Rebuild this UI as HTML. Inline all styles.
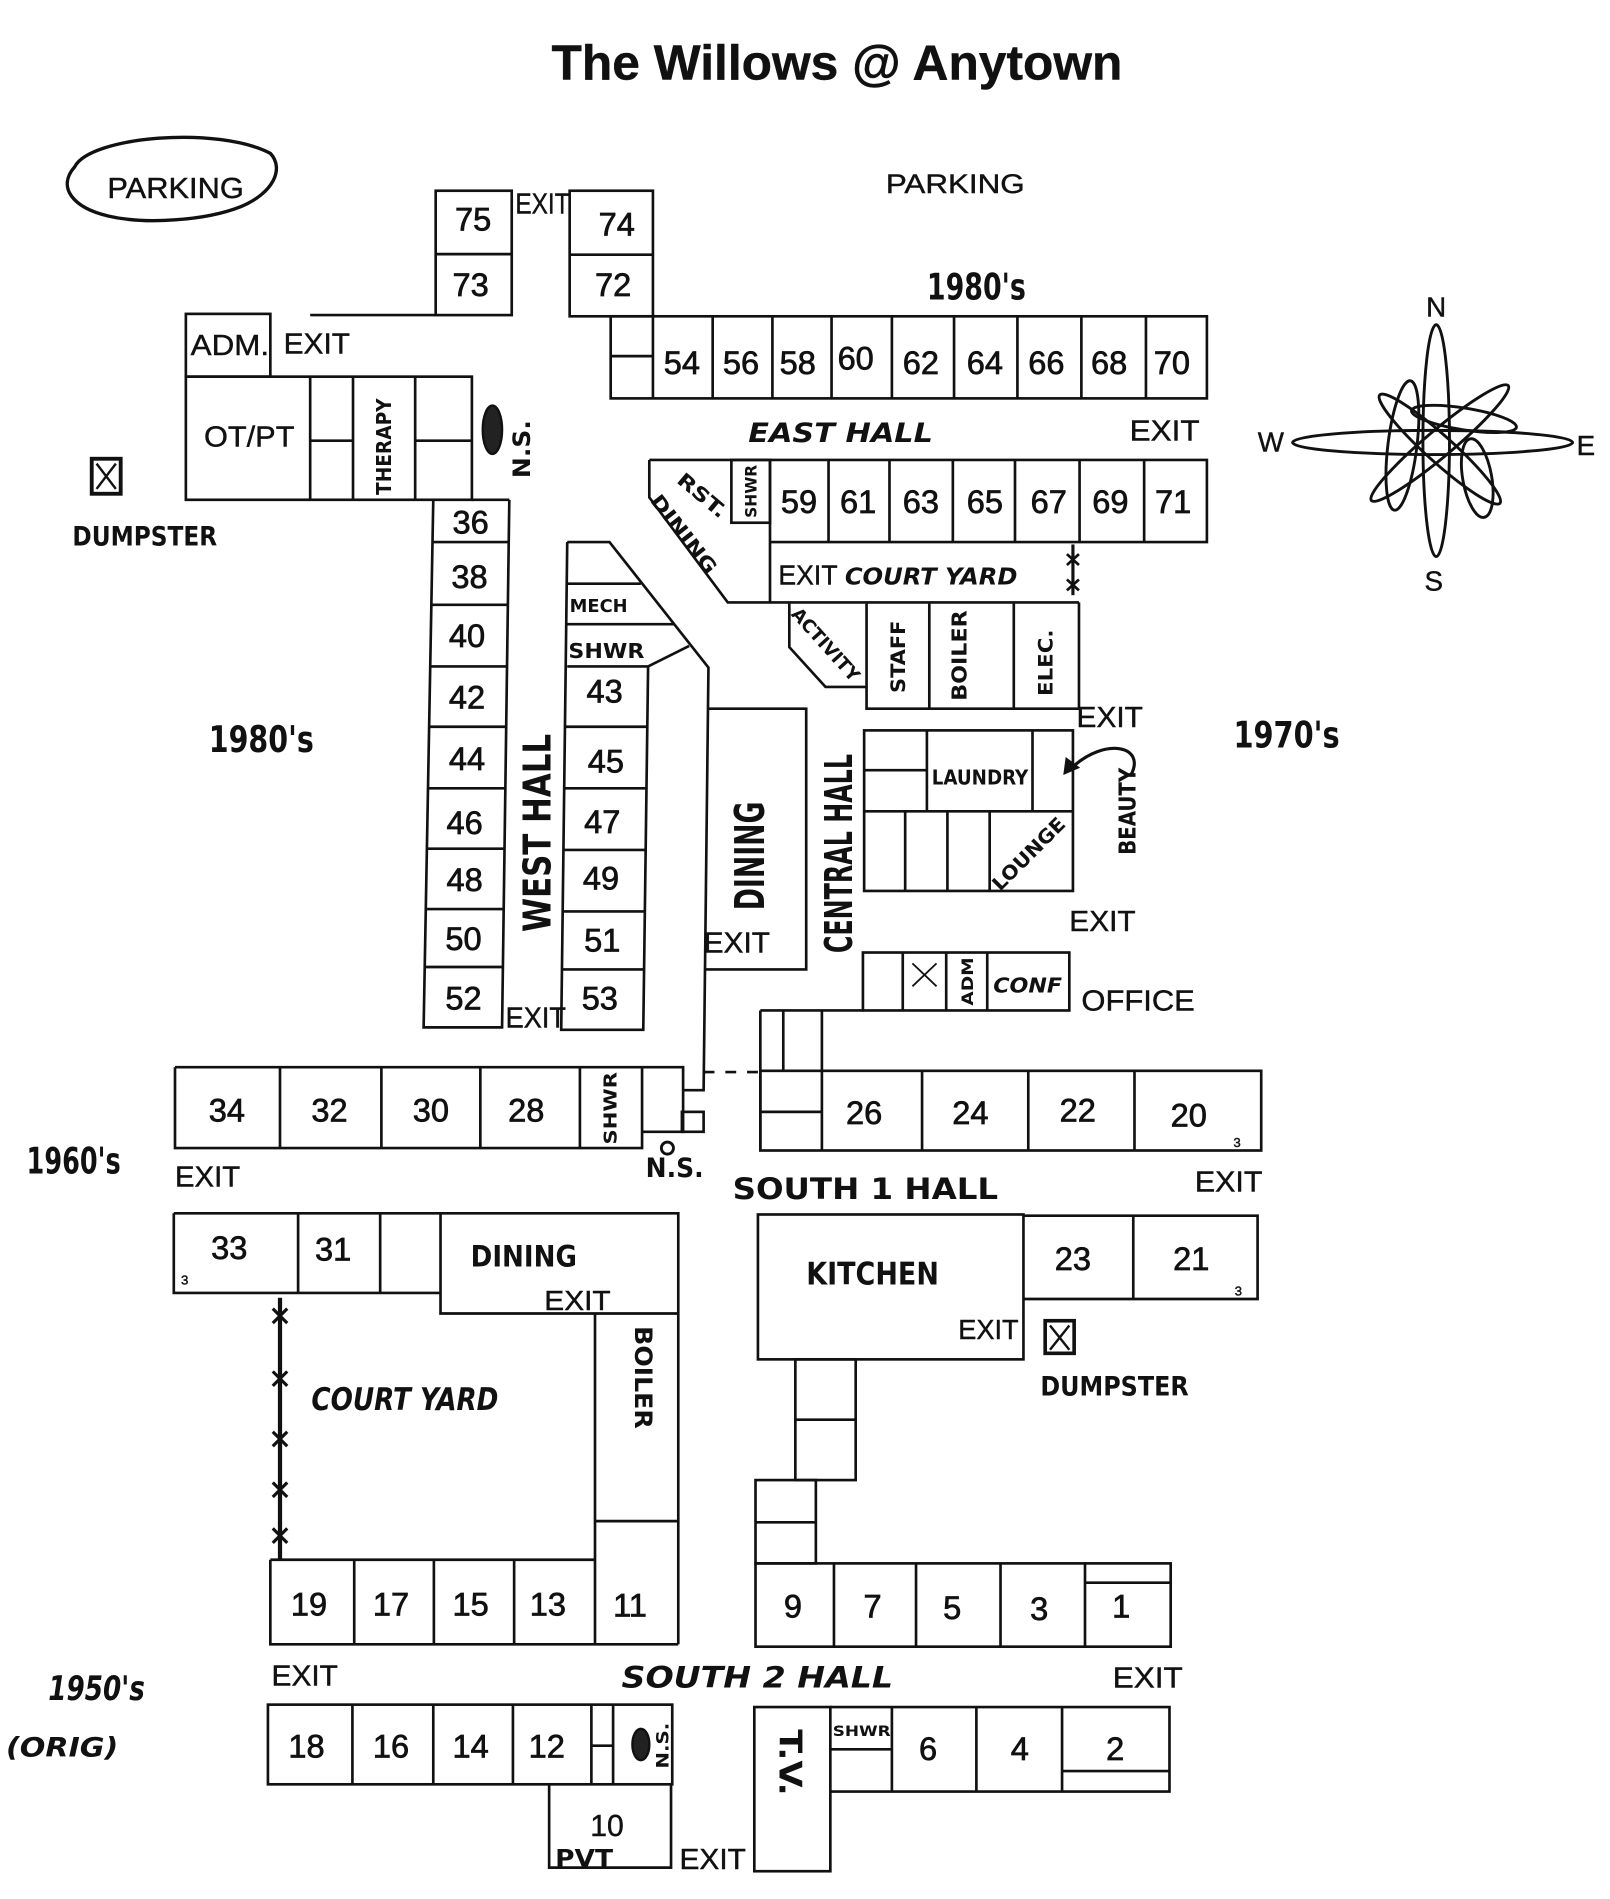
<!DOCTYPE html>
<html><head><meta charset="utf-8">
<style>
html,body{margin:0;padding:0;background:#fff;}
svg{display:block;}
.p{font-family:"Liberation Sans",Arial,sans-serif;fill:#111;stroke:#111;stroke-width:0.35px;}
.h{font-family:"DejaVu Sans Condensed","DejaVu Sans",sans-serif;font-weight:bold;fill:#111;}
.n{font-family:"Liberation Sans",Arial,sans-serif;font-size:27px;text-anchor:middle;fill:#111;stroke:#111;stroke-width:0.6px;}
</style></head><body>
<svg width="1610" height="1899" viewBox="0 0 1334 1573" preserveAspectRatio="none" xmlns="http://www.w3.org/2000/svg">
<rect x="0" y="0" width="1334" height="1573" fill="#fff"/>
<g fill="none" stroke="#111" stroke-width="2.2">
<path d="M62 138 C75 113,180 104,224 127 C236 140,226 160,200 171 C170 183,120 186,90 179 C60 172,47 155,62 138 Z" stroke-width="2.8"/>
<rect x="361" y="158" width="63" height="103"/>
<line x1="361" y1="210.5" x2="424" y2="210.5"/>
<rect x="472" y="158" width="69" height="104"/>
<line x1="472" y1="211" x2="541" y2="211"/>
<line x1="257" y1="261" x2="361" y2="261"/>
<rect x="154" y="260" width="70" height="52"/>
<rect x="154" y="312" width="237" height="102"/>
<line x1="391" y1="414" x2="422" y2="414"/>
<line x1="257" y1="312" x2="257" y2="414"/>
<line x1="292.5" y1="312" x2="292.5" y2="414"/>
<line x1="344" y1="312" x2="344" y2="414"/>
<line x1="257" y1="365" x2="292.5" y2="365"/>
<line x1="344" y1="365" x2="391" y2="365"/>
<rect x="76" y="380" width="24" height="29" stroke-width="3.2"/>
<path d="M80 384 L96 405 M96 384 L80 405" stroke-width="2"/>
<path d="M359 414 L351 851 H416 L422 414"/>
<path d="M358.4 449 H421.5 M357.4 501 H420.8 M356.5 552 H420.1 M355.6 602 H419.4 M354.6 653 H418.7 M353.7 703 H418 M352.8 753 H417.3 M351.9 801 H416.7"/>
<path d="M470 449 L465 853 H533 L537 552"/>
<path d="M468.1 602 H536.3 M467.5 653 H535.7 M466.9 704 H535 M466.2 755 H534.3 M465.6 803 H533.7"/>
<path d="M470 449 H505 L587 553 L583 903 H566"/>
<path d="M470 483.5 H531 M470 517 H558 M470 552 H537 L571 535"/>
<path d="M587 587 H668 V803 H584"/>
<path d="M145 884 H566 V937.5 H532 M145 884 V951 H532 V884"/>
<path d="M232 884 V951 M316 884 V951 M398 884 V951 M480.5 884 V951"/>
<rect x="565" y="921" width="18" height="16.5"/>
<path d="M583 888 H630" stroke-dasharray="9 9"/>
<path d="M630 837 H715 M630 837 V953 M649 837 V887 M681 837 V953"/>
<rect x="630" y="887" width="415" height="66"/>
<path d="M764 887 V953 M852 887 V953 M940 887 V953 M630 921 H681"/>
<path d="M144 1005 H562 V1362 M144 1005 V1071 H365 M247 1005 V1071 M315 1005 V1071 M365 1005 V1088 H562 M493 1088 V1362 M493 1260 H562"/>
<path d="M232 1075 V1292" stroke-width="3.5"/>
<path d="M226 1084 L238 1096 M238 1084 L226 1096 M226 1136 L238 1148 M238 1136 L226 1148 M226 1186 L238 1198 M238 1186 L226 1198 M226 1228 L238 1240 M238 1228 L226 1240 M226 1266 L238 1278 M238 1266 L226 1278" stroke-width="2.6"/>
<path d="M224 1292 H493 M224 1292 V1362 H562 M293.5 1292 V1362 M359.5 1292 V1362 M426 1292 V1362"/>
<rect x="222" y="1412" width="335" height="66"/>
<path d="M292 1412 V1478 M359 1412 V1478 M425 1412 V1478 M490 1412 V1478 M508 1412 V1478 M490 1446 H508"/>
<path d="M455 1478 V1547 H556 V1478"/>
<rect x="626" y="1295" width="344" height="69"/>
<path d="M691 1295 V1364 M759 1295 V1364 M829 1295 V1364 M899 1295 V1364 M899 1311 H970"/>
<rect x="626" y="1226" width="50" height="69"/>
<path d="M626 1261 H676"/>
<rect x="659" y="1126" width="50" height="100"/>
<path d="M659 1176 H709"/>
<rect x="628" y="1006" width="220" height="120"/>
<path d="M848 1007 H1042 V1076 H848 M939 1007 V1076"/>
<rect x="866" y="1094" width="24" height="27" stroke-width="3"/>
<path d="M870 1098 L886 1118 M886 1098 L870 1118 M866 1094 L890 1094" stroke-width="2"/>
<rect x="625" y="1414" width="63" height="136"/>
<path d="M688 1414 H969 V1484 H688 M739 1414 V1484 M809 1414 V1484 M880 1414 V1484 M688 1449 H739 M880 1467 H969"/>
<rect x="506" y="262" width="494" height="68"/>
<path d="M541 262 V330 M590.5 262 V330 M640 262 V330 M689 262 V330 M739 262 V330 M790.5 262 V330 M843 262 V330 M896 262 V330 M949.5 262 V330 M506 295 H541"/>
<path d="M538 381 H1000 V449 H638 M638 381 V499 M538 381 V412 L603 499 H894"/>
<path d="M686.5 381 V449 M737 381 V449 M789.5 381 V449 M841 381 V449 M894.5 381 V449 M948 381 V449"/>
<rect x="606" y="381" width="32" height="52"/>
<path d="M889 451 V493" stroke-width="2.6"/>
<path d="M884 459 L894 468 M894 459 L884 468 M884 480 L894 489 M894 480 L884 489" stroke-width="2.2"/>
<path d="M654 500 V536 L684 569 H718 M718 500 V587 H894 V499 M770 500 V587 M840 500 V587"/>
<rect x="716" y="605" width="173" height="133"/>
<path d="M716 672 H889 M768 605 V672 M855.5 605 V672 M716 638 H768 M750 672 V738 M785 672 V738 M820 672 V738"/>
<rect x="715" y="789" width="171" height="48"/>
<path d="M748 789 V837 M784 789 V837 M818 789 V837"/>
<path d="M756 798 L776 817 M776 798 L756 817" stroke-width="1.5"/>
<path d="M937 642 C950 618,916 610,888 636" stroke-width="2.6"/>
<g stroke-width="2.4">
<ellipse cx="1190" cy="365" rx="11" ry="96"/>
<ellipse cx="1187" cy="366.5" rx="116" ry="10"/>
<ellipse cx="1193" cy="372" rx="67" ry="11" transform="rotate(42 1193 372)"/>
<ellipse cx="1193" cy="367" rx="74" ry="11" transform="rotate(-40 1193 367)"/>
<ellipse cx="1162" cy="369" rx="12" ry="54" transform="rotate(7 1162 369)"/>
<ellipse cx="1224" cy="396" rx="12" ry="33" transform="rotate(-10 1224 396)"/>
<ellipse cx="1213" cy="347" rx="44" ry="9" transform="rotate(9 1213 347)"/>
</g>
<circle cx="553" cy="951" r="5" stroke-width="2.4"/>
</g>
<polygon points="881,642 883,627 895,636" fill="#111"/>
<ellipse cx="408" cy="356" rx="8" ry="20" fill="#222" stroke="#111" stroke-width="2"/>
<ellipse cx="531" cy="1445" rx="7" ry="13" fill="#222" stroke="#111" stroke-width="2"/>

<text class="p" x="457" y="66" font-size="41" font-weight="bold" textLength="473" lengthAdjust="spacingAndGlyphs">The Willows @ Anytown</text>
<text class="p" x="89" y="164" font-size="24" textLength="113" lengthAdjust="spacingAndGlyphs">PARKING</text>
<text class="p" x="734" y="160" font-size="22" textLength="115" lengthAdjust="spacingAndGlyphs">PARKING</text>
<text class="p" x="427" y="177" font-size="24" textLength="45" lengthAdjust="spacingAndGlyphs">EXIT</text>
<text class="p" x="158" y="294" font-size="24" textLength="65" lengthAdjust="spacingAndGlyphs">ADM.</text>
<text class="p" x="235" y="293" font-size="24" textLength="55" lengthAdjust="spacingAndGlyphs">EXIT</text>
<text class="p" x="169" y="370" font-size="24" textLength="75" lengthAdjust="spacingAndGlyphs">OT/PT</text>
<text class="p" x="936" y="365" font-size="24" textLength="58" lengthAdjust="spacingAndGlyphs">EXIT</text>
<text class="p" x="645" y="484" font-size="23" textLength="49" lengthAdjust="spacingAndGlyphs">EXIT</text>
<text class="p" x="892" y="602" font-size="24" textLength="55" lengthAdjust="spacingAndGlyphs">EXIT</text>
<text class="p" x="886" y="771" font-size="24" textLength="55" lengthAdjust="spacingAndGlyphs">EXIT</text>
<text class="p" x="896" y="837" font-size="24" textLength="94" lengthAdjust="spacingAndGlyphs">OFFICE</text>
<text class="p" x="583" y="789" font-size="24" textLength="55" lengthAdjust="spacingAndGlyphs">EXIT</text>
<text class="p" x="419" y="851" font-size="24" textLength="50" lengthAdjust="spacingAndGlyphs">EXIT</text>
<text class="p" x="145" y="983" font-size="24" textLength="54" lengthAdjust="spacingAndGlyphs">EXIT</text>
<text class="p" x="990" y="987" font-size="24" textLength="56" lengthAdjust="spacingAndGlyphs">EXIT</text>
<text class="p" x="451" y="1085" font-size="23" textLength="55" lengthAdjust="spacingAndGlyphs">EXIT</text>
<text class="p" x="794" y="1109" font-size="23" textLength="50" lengthAdjust="spacingAndGlyphs">EXIT</text>
<text class="p" x="225" y="1396" font-size="24" textLength="55" lengthAdjust="spacingAndGlyphs">EXIT</text>
<text class="p" x="922" y="1398" font-size="24" textLength="58" lengthAdjust="spacingAndGlyphs">EXIT</text>
<text class="p" x="563" y="1548" font-size="24" textLength="55" lengthAdjust="spacingAndGlyphs">EXIT</text>
<text class="p" x="503" y="1521" font-size="25" text-anchor="middle">10</text>
<text class="p" x="153" y="1064" font-size="11" text-anchor="middle">3</text>
<text class="p" x="1025" y="950" font-size="11" text-anchor="middle">3</text>
<text class="p" x="1026" y="1073" font-size="11" text-anchor="middle">3</text>
<text class="p" x="1190" y="262" font-size="23" text-anchor="middle">N</text>
<text class="p" x="1188" y="489" font-size="23" text-anchor="middle">S</text>
<text class="p" x="1053" y="374" font-size="23" text-anchor="middle">W</text>
<text class="p" x="1314" y="377" font-size="23" text-anchor="middle">E</text>

<text class="n" x="392" y="191">75</text><text class="n" x="390" y="245">73</text>
<text class="n" x="511" y="195">74</text><text class="n" x="508" y="245">72</text>
<text class="n" x="565" y="310">54</text><text class="n" x="614" y="310">56</text><text class="n" x="661" y="310">58</text><text class="n" x="709" y="306">60</text><text class="n" x="763" y="310">62</text><text class="n" x="816" y="310">64</text><text class="n" x="867" y="310">66</text><text class="n" x="919" y="310">68</text><text class="n" x="971" y="310">70</text>
<text class="n" x="662" y="425">59</text><text class="n" x="711" y="425">61</text><text class="n" x="763" y="425">63</text><text class="n" x="816" y="425">65</text><text class="n" x="869" y="425">67</text><text class="n" x="920" y="425">69</text><text class="n" x="972" y="425">71</text>
<text class="n" x="390" y="442">36</text><text class="n" x="389" y="487">38</text><text class="n" x="387" y="536">40</text><text class="n" x="387" y="587">42</text><text class="n" x="387" y="638">44</text><text class="n" x="385" y="691">46</text><text class="n" x="385" y="738">48</text><text class="n" x="384" y="787">50</text><text class="n" x="384" y="836">52</text>
<text class="n" x="501" y="582">43</text><text class="n" x="502" y="640">45</text><text class="n" x="499" y="690">47</text><text class="n" x="498" y="737">49</text><text class="n" x="499" y="788">51</text><text class="n" x="497" y="836">53</text>
<text class="n" x="188" y="929">34</text><text class="n" x="273" y="929">32</text><text class="n" x="357" y="929">30</text><text class="n" x="436" y="929">28</text>
<text class="n" x="716" y="931">26</text><text class="n" x="804" y="931">24</text><text class="n" x="893" y="929">22</text><text class="n" x="985" y="933">20</text>
<text class="n" x="190" y="1043">33</text><text class="n" x="276" y="1044">31</text>
<text class="n" x="889" y="1052">23</text><text class="n" x="987" y="1052">21</text>
<text class="n" x="256" y="1338">19</text><text class="n" x="324" y="1338">17</text><text class="n" x="390" y="1338">15</text><text class="n" x="454" y="1338">13</text><text class="n" x="522" y="1339">11</text>
<text class="n" x="254" y="1456">18</text><text class="n" x="324" y="1456">16</text><text class="n" x="390" y="1456">14</text><text class="n" x="453" y="1456">12</text>
<text class="n" x="657" y="1340">9</text><text class="n" x="723" y="1340">7</text><text class="n" x="789" y="1341">5</text><text class="n" x="861" y="1342">3</text><text class="n" x="929" y="1340">1</text>
<text class="n" x="769" y="1458">6</text><text class="n" x="845" y="1458">4</text><text class="n" x="924" y="1458">2</text>

<text class="h" transform="translate(318,370) rotate(-90)" x="0" y="6" font-size="17" text-anchor="middle" textLength="80" lengthAdjust="spacingAndGlyphs">THERAPY</text>
<text class="h" transform="translate(432,372) rotate(-90)" x="0" y="7" font-size="20" text-anchor="middle" textLength="48" lengthAdjust="spacingAndGlyphs">N.S.</text>
<text class="h" x="60" y="452" font-size="22" textLength="120" lengthAdjust="spacingAndGlyphs">DUMPSTER</text>
<text class="h" x="768" y="248" font-size="30" font-weight="normal" textLength="82" lengthAdjust="spacingAndGlyphs">1980's</text>
<text class="h" x="620" y="366" font-size="22" font-style="italic" textLength="153" lengthAdjust="spacingAndGlyphs">EAST HALL</text>
<text class="h" transform="translate(582,410) rotate(40)" x="0" y="6" font-size="16" text-anchor="middle" textLength="48" lengthAdjust="spacingAndGlyphs">RST.</text>
<text class="h" transform="translate(567,442) rotate(52)" x="0" y="6" font-size="16" text-anchor="middle" textLength="78" lengthAdjust="spacingAndGlyphs">DINING</text>
<text class="h" transform="translate(622,407) rotate(-90)" x="0" y="5" font-size="13" text-anchor="middle" textLength="44" lengthAdjust="spacingAndGlyphs">SHWR</text>
<text class="h" x="700" y="484" font-size="19" font-style="italic" textLength="143" lengthAdjust="spacingAndGlyphs">COURT YARD</text>
<text class="h" x="472" y="507" font-size="15" textLength="48" lengthAdjust="spacingAndGlyphs">MECH</text>
<text class="h" x="471" y="545" font-size="17" textLength="63" lengthAdjust="spacingAndGlyphs">SHWR</text>
<text class="h" transform="translate(684,534) rotate(48)" x="0" y="5" font-size="15" text-anchor="middle" textLength="76" lengthAdjust="spacingAndGlyphs">ACTIVITY</text>
<text class="h" transform="translate(744,544) rotate(-90)" x="0" y="6" font-size="16" text-anchor="middle" textLength="60" lengthAdjust="spacingAndGlyphs">STAFF</text>
<text class="h" transform="translate(795,543) rotate(-90)" x="0" y="6" font-size="17" text-anchor="middle" textLength="75" lengthAdjust="spacingAndGlyphs">BOILER</text>
<text class="h" transform="translate(866,549) rotate(-90)" x="0" y="6" font-size="16" text-anchor="middle" textLength="55" lengthAdjust="spacingAndGlyphs">ELEC.</text>
<text class="h" x="1022" y="619" font-size="30" font-weight="normal" textLength="88" lengthAdjust="spacingAndGlyphs">1970's</text>
<text class="h" x="772" y="650" font-size="17" textLength="80" lengthAdjust="spacingAndGlyphs">LAUNDRY</text>
<text class="h" transform="translate(852,707) rotate(-45)" x="0" y="6" font-size="16" text-anchor="middle" textLength="78" lengthAdjust="spacingAndGlyphs">LOUNGE</text>
<text class="h" transform="translate(934,672) rotate(-90)" x="0" y="7" font-size="19" text-anchor="middle" textLength="72" lengthAdjust="spacingAndGlyphs">BEAUTY</text>
<text class="h" x="173" y="623" font-size="30" font-weight="normal" textLength="87" lengthAdjust="spacingAndGlyphs">1980's</text>
<text class="h" transform="translate(445,690) rotate(-90)" x="0" y="11" font-size="32" text-anchor="middle" textLength="164" lengthAdjust="spacingAndGlyphs">WEST HALL</text>
<text class="h" transform="translate(621,709) rotate(-90)" x="0" y="12" font-size="34" font-weight="normal" text-anchor="middle" textLength="90" lengthAdjust="spacingAndGlyphs">DINING</text>
<text class="h" transform="translate(695,707) rotate(-90)" x="0" y="11" font-size="32" text-anchor="middle" textLength="165" lengthAdjust="spacingAndGlyphs">CENTRAL HALL</text>
<text class="h" x="823" y="822" font-size="17" font-style="italic" textLength="57" lengthAdjust="spacingAndGlyphs">CONF</text>
<text class="h" transform="translate(801,813) rotate(-90)" x="0" y="5" font-size="13" text-anchor="middle" textLength="40" lengthAdjust="spacingAndGlyphs">ADM</text>
<text class="h" x="22" y="972" font-size="30" font-weight="normal" textLength="78" lengthAdjust="spacingAndGlyphs">1960's</text>
<text class="h" transform="translate(506,918) rotate(-90)" x="0" y="5" font-size="15" text-anchor="middle" textLength="60" lengthAdjust="spacingAndGlyphs">SHWR</text>
<text class="h" x="535" y="975" font-size="22" textLength="48" lengthAdjust="spacingAndGlyphs">N.S.</text>
<text class="h" x="607" y="993" font-size="24" textLength="220" lengthAdjust="spacingAndGlyphs">SOUTH 1 HALL</text>
<text class="h" x="390" y="1049" font-size="24" textLength="88" lengthAdjust="spacingAndGlyphs">DINING</text>
<text class="h" x="258" y="1168" font-size="26" font-style="italic" textLength="155" lengthAdjust="spacingAndGlyphs">COURT YARD</text>
<text class="h" transform="translate(533,1141) rotate(90)" x="0" y="7" font-size="20" text-anchor="middle" textLength="85" lengthAdjust="spacingAndGlyphs">BOILER</text>
<text class="h" x="668" y="1064" font-size="26" textLength="110" lengthAdjust="spacingAndGlyphs">KITCHEN</text>
<text class="h" x="862" y="1156" font-size="22" textLength="123" lengthAdjust="spacingAndGlyphs">DUMPSTER</text>
<text class="h" x="40" y="1408" font-size="28" font-weight="normal" font-style="italic" textLength="80" lengthAdjust="spacingAndGlyphs">1950's</text>
<text class="h" x="5" y="1455" font-size="22" font-weight="normal" font-style="italic" textLength="93" lengthAdjust="spacingAndGlyphs">(ORIG)</text>
<text class="h" x="515" y="1398" font-size="24" font-style="italic" textLength="225" lengthAdjust="spacingAndGlyphs">SOUTH 2 HALL</text>
<text class="h" transform="translate(549,1446) rotate(-90)" x="0" y="5" font-size="14" text-anchor="middle" textLength="38" lengthAdjust="spacingAndGlyphs">N.S.</text>
<text class="h" x="460" y="1546" font-size="20" textLength="48" lengthAdjust="spacingAndGlyphs">PVT</text>
<text class="h" x="690" y="1438" font-size="12" textLength="48" lengthAdjust="spacingAndGlyphs">SHWR</text>
<text class="h" transform="translate(655,1460) rotate(90)" x="0" y="9" font-size="26" text-anchor="middle" textLength="55" lengthAdjust="spacingAndGlyphs">T.V.</text>
</svg>
</body></html>
